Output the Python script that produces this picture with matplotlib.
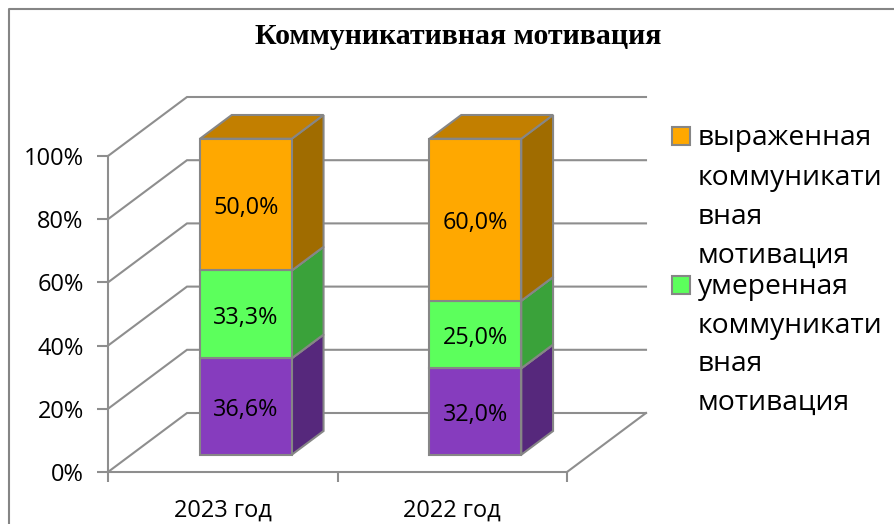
import numpy as np
import matplotlib
matplotlib.use("Agg")
import matplotlib.pyplot as plt
from matplotlib.patches import Polygon, Rectangle
from matplotlib.transforms import ScaledTranslation

W, H = 894, 524

categories = ["2023 год", "2022 год"]
purple_vals = [36.6, 32.0]
green_vals = [33.3, 25.0]
orange_vals = [50.0, 60.0]
y_ticks = [0, 20, 40, 60, 80, 100]
title = "Коммуникативная мотивация"
legend_orange = ["выраженная", "коммуникати", "вная", "мотивация"]
legend_green = ["умеренная", "коммуникати", "вная", "мотивация"]

# front, side, top colours of each stacked series
purple = ("#863CBE", "#56287C", "#6A2F98")
green = ("#5CFF5C", "#3AA23A", "#48C848")
orange = ("#FFA800", "#A06C00", "#C27F00")
edge = "#868686"
grid = "#8E8E8E"

body_font = ["Open Sans", "DejaVu Sans"]

# how far the back wall sits from the front plane, in data units
depth_x = 79 / 229.5
depth_y = 59 / 3.16
bar_half = 0.2
bar_front = 0.293
bar_back = 0.695


def project(x, depth, pct):
    return (x + depth * depth_x, pct + depth * depth_y)


def box(ax, x, low, high, colors):
    x0, x1 = x - bar_half, x + bar_half
    front = [project(x0, bar_front, low), project(x1, bar_front, low),
             project(x1, bar_front, high), project(x0, bar_front, high)]
    side = [project(x1, bar_front, low), project(x1, bar_back, low),
            project(x1, bar_back, high), project(x1, bar_front, high)]
    top = [project(x0, bar_front, high), project(x1, bar_front, high),
           project(x1, bar_back, high), project(x0, bar_back, high)]
    for pts, col in ((side, colors[1]), (top, colors[2]), (front, colors[0])):
        ax.add_patch(Polygon(pts, closed=True, facecolor=col, edgecolor=edge,
                             linewidth=1.5, joinstyle="miter", clip_on=False, zorder=3))


fig = plt.figure(figsize=(W / 100, H / 100), dpi=100)

# frame of the chart area, it runs off the right and bottom of the picture
fig.add_artist(plt.Line2D([9 / W, 9 / W, 1], [0, 1 - 9 / H, 1 - 9 / H], color="#858585", linewidth=1.5))

ax = fig.add_axes([108 / W, 1 - 472 / H, (567 - 108) / W, (472 - 156) / H])
ax.set_xlim(0, 2)
ax.set_ylim(0, 100)
ax.patch.set_visible(False)
for s in ("top", "right"):
    ax.spines[s].set_visible(False)
for s in ("left", "bottom"):
    ax.spines[s].set_color(grid)
    ax.spines[s].set_linewidth(1.5)

ax.set_yticks(y_ticks)
ax.set_yticklabels([f"{v}%" for v in y_ticks], fontsize=17, family=body_font, va="center")
ax.set_xticks([0, 1, 2])
ax.set_xticklabels([])
ax.set_xticks([0.5, 1.5], minor=True)
ax.set_xticklabels(categories, minor=True, fontsize=17, family=body_font)
ax.tick_params(axis="y", color=grid, width=1.5, length=8, pad=9.5)
ax.tick_params(axis="x", which="major", color=grid, width=1.5, length=7)
ax.tick_params(axis="x", which="minor", length=0, pad=19)

# tick labels sit a little lower than the font centres them
label_shift = ScaledTranslation(0, -3 / 100, fig.dpi_scale_trans)
for lab in ax.get_yticklabels():
    lab.set_transform(lab.get_transform() + label_shift)

# walls and floor
for v in y_ticks:
    xs, ys = zip(project(0, 0, v), project(0, 1, v), project(2, 1, v))
    ax.plot(xs, ys, color=grid, linewidth=1.5, clip_on=False, zorder=1, solid_joinstyle="miter")
xs, ys = zip(project(2, 0, 0), project(2, 1, 0))
ax.plot(xs, ys, color=grid, linewidth=1.5, clip_on=False, zorder=1)

# 100% stacked, so segments are scaled to the sum of the labels
for i in range(len(categories)):
    vals = [purple_vals[i], green_vals[i], orange_vals[i]]
    total = sum(vals)
    low = 0
    for val, colors in zip(vals, (purple, green, orange)):
        high = low + val / total * 100
        box(ax, i + 0.5, low, high, colors)
        cx, cy = project(i + 0.5, bar_front, (low + high) / 2)
        ax.annotate(f"{val:.1f}%".replace(".", ","), (cx, cy), xytext=(0, -2.5),
                    textcoords="offset points", ha="center", va="center",
                    fontsize=16.8, family=body_font, color="black", zorder=4)
        low = high

fig.text(458 / W, 1 - 36 / H, title, ha="center", va="center", fontsize=21.5,
         fontweight="bold", family="Liberation Serif", color="black")

# legend
for box_top, color, lines, line_ys in (
    (127, orange[0], legend_orange, (138, 178, 217, 256)),
    (276, green[0], legend_green, (287, 326, 364, 403)),
):
    fig.add_artist(Rectangle((672 / W, 1 - (box_top + 18) / H), 18 / W, 18 / H, facecolor=color,
                             edgecolor=edge, linewidth=1.5, transform=fig.transFigure))
    for line, y in zip(lines, line_ys):
        fig.text(698 / W, 1 - y / H, line, ha="left", va="center", fontsize=20.3,
                 family=body_font, color="black")

fig.savefig("out.png", dpi=100)
